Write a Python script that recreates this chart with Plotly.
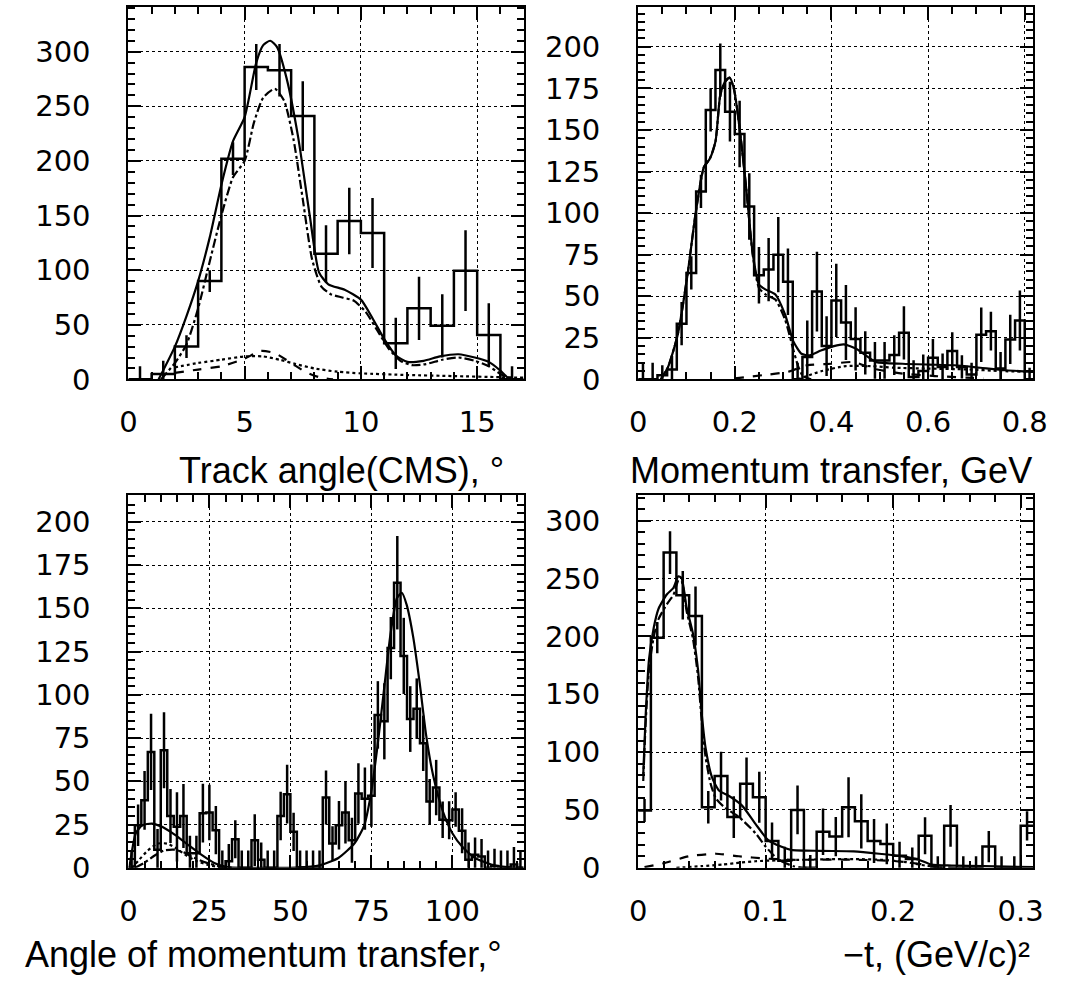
import plotly.graph_objects as go

W, H = 1067, 990

# ---------------- data: top-left (track angle) ----------------
TL_BIN_START, TL_BIN_WIDTH = 0.0, 1.0
TL_COUNTS = [0, 5, 30, 90, 202, 286, 283, 241, 115, 145, 134, 33, 65, 49, 99.5, 40.6, 0]
TL_ERRORS = [12, 12, 10.5, 10, 15, 21, 24, 32, 26, 30.5, 32, 23.5, 29, 29, 37, 29, 12]
TL_TOTAL_X = [1.3, 2.0, 2.5, 3.0, 3.5, 4.0, 4.5, 5.0, 5.5, 5.8, 6.1, 6.4, 6.8, 7.3, 7.8, 8.2, 8.6,
              9.3, 10.0, 10.5, 11.0, 11.5, 12.0, 12.7, 13.4, 14.2, 14.9, 15.5, 16.0, 16.3, 16.6]
TL_TOTAL_Y = [0, 30, 58, 90, 130, 178, 218, 240, 290, 306, 310, 304, 276, 222, 150, 98, 87,
              82, 73, 56, 37, 22, 16, 17, 21, 23, 20, 16, 8, 2, 0]
TL_MAIN_X = [1.4, 2.0, 2.5, 3.0, 3.5, 4.0, 4.5, 5.0, 5.4, 5.8, 6.3, 6.7, 7.1, 7.5, 7.9, 8.3, 8.7,
             9.2, 9.7, 10.2, 10.7, 11.2, 11.7, 12.2, 12.8, 13.5, 14.2, 14.9, 15.5, 16.0, 16.4]
TL_MAIN_Y = [0, 15, 32, 65, 108, 150, 185, 200, 235, 258, 266, 255, 220, 165, 110, 85, 78,
             75, 72, 62, 45, 28, 17, 13, 14, 18, 20, 17, 12, 5, 0]
TL_DASH_X = [2.0, 3.0, 4.0, 5.0, 5.7, 6.3, 7.0, 7.6, 8.2, 8.8]
TL_DASH_Y = [6, 9, 12, 19, 26, 24, 15, 7, 2, 0]
TL_DOT_X = [2.0, 3.0, 4.0, 5.0, 5.8, 6.5, 7.2, 8.0, 9.0, 10.0, 12.0, 14.0, 16.0, 17.0]
TL_DOT_Y = [11, 15, 18, 21, 21, 18, 14, 10, 7, 5.5, 4, 3, 2, 1.5]

# ---------------- data: top-right (momentum transfer) ----------------
TR_BIN_START, TR_BIN_WIDTH = 0.0, 0.02
TR_COUNTS = [0, 0, 2.5, 6, 33.5, 64, 113, 162, 186, 161, 147.6, 104, 62.6, 66, 75, 58.7, 0,
             13.4, 52.8, 20, 47.5, 34.2, 24.3, 16, 11.4, 11.4, 14.6, 28, 1.5, 5, 13, 7.5, 17,
             7.5, 3, 26.8, 29, 6.5, 24, 35.4, 0]
TR_ERRORS = [10, 10, 6, 8, 13, 10, 10, 13, 16, 18, 20, 20, 17, 19, 22.6, 20, 10,
             22, 24, 18, 22, 22.6, 19, 13, 11, 11, 12, 16, 10, 10, 11.3, 8, 11.3,
             7, 7, 16.4, 11.7, 10, 14.8, 18, 7]
TR_TOTAL_X = [0.047, 0.062, 0.082, 0.102, 0.119, 0.136, 0.148, 0.16, 0.17, 0.18, 0.189, 0.198,
              0.21, 0.224, 0.237, 0.25, 0.264, 0.284, 0.304, 0.321, 0.338, 0.355, 0.378, 0.405,
              0.426, 0.452, 0.476, 0.493, 0.547, 0.6, 0.655, 0.708, 0.762, 0.818]
TR_TOTAL_Y = [0, 7.5, 27, 62.6, 100, 127.6, 132.5, 143, 171, 179, 181.5, 175,
              151, 114, 76, 57, 54, 51, 39, 23, 15.4, 14.4, 17.3, 20,
              21, 18.3, 13.4, 10.4, 9.4, 8.9, 8.5, 7, 5.5, 4.5]
TR_MAIN_X = [0.047, 0.062, 0.082, 0.102, 0.119, 0.136, 0.148, 0.16, 0.17, 0.18, 0.189, 0.198,
             0.21, 0.224, 0.237, 0.25, 0.264, 0.284, 0.304, 0.321, 0.331, 0.341, 0.358]
TR_MAIN_Y = [0, 7.5, 27, 62.6, 100, 127.6, 132.5, 143, 171, 179, 181.5, 175,
             151, 114, 75, 55, 51, 48, 36, 18, 8, 2, 0]
TR_DASH_X = [0.2, 0.26, 0.31, 0.35, 0.4, 0.446, 0.486, 0.547, 0.614, 0.715]
TR_DASH_Y = [0.6, 2.6, 4.5, 8.5, 9.4, 10.4, 6.5, 3.5, 2, 0.6]
TR_DOT_X = [0.33, 0.38, 0.43, 0.48, 0.53, 0.6, 0.68, 0.75, 0.818]
TR_DOT_Y = [0, 5, 8, 8, 7, 6.5, 6, 5, 4.5]

# ---------------- data: bottom-left (angle of momentum transfer) ----------------
BL_BIN_START, BL_BIN_WIDTH = 0.0, 2.0
BL_COUNTS = [0, 24.6, 39, 67, 10.4, 68, 30, 23.7, 30, 8.5, 8.5, 31.6, 32, 21.8, 0, 3.8,
             16.5, 0, 0, 16, 4.7, 0, 0, 30, 42.6, 20.8, 0, 0, 0, 0, 40.7, 14, 24.6, 32,
             16, 43, 40, 41.7, 88.4, 84.7, 127, 164.8, 122.5, 86, 92, 72, 38.4, 46.4,
             27.8, 27.5, 33.7, 21.4, 4.7, 7.6, 6.6, 0, 1, 0, 0, 2, 0]
BL_ERRORS = [9.5, 12, 17, 22, 12, 22, 15.6, 20, 18.5, 10, 10, 17, 16, 14, 10, 10,
             11, 10, 10, 15, 10, 10, 10, 14, 17, 11, 10, 10, 10, 10, 15.6, 10, 14, 18,
             13, 17.5, 18, 18, 19.5, 22, 18, 27, 22, 19, 17.5, 16, 13, 16,
             10.5, 11, 10, 13, 10, 10, 10, 10, 10, 10, 10, 10, 10]
BL_TOTAL_X = [0.3, 2.3, 4.3, 7.3, 10.4, 14.4, 18.4, 22.5, 26.5, 30.5, 36.5, 46.6, 51.7, 58.7,
              64.8, 69.8, 72.8, 74.8, 76.8, 78.9, 80.9, 82.9, 84.4, 85.9, 87.9, 89.9, 91.9,
              94, 97, 100, 103, 107, 112, 117, 122]
BL_TOTAL_Y = [0, 20, 24.6, 25.6, 23.7, 19, 13.3, 7.6, 2.8, 0.4, 0, 0, 0.2, 1.3,
              5.7, 14.2, 24.6, 42, 69, 103, 135, 156, 159, 152, 133.5, 107, 76.7,
              54, 33, 20, 12.3, 5.7, 1.9, 0.4, 0]
BL_DASHDOT_X = [2, 5, 8, 11, 14, 17, 20, 24, 28, 32]
BL_DASHDOT_Y = [0, 3, 7, 10, 10.5, 9, 6, 3, 1, 0]
BL_DOT_X = [1, 3, 6, 9, 12, 15, 18, 21, 25, 30]
BL_DOT_Y = [0, 4, 10, 14, 14, 11, 7, 4, 1.5, 0]

# ---------------- data: bottom-right (-t) ----------------
BR_BIN_START, BR_BIN_WIDTH = 0.0, 0.01
BR_COUNTS = [49.6, 199, 272.5, 235.7, 217.6, 52.4, 79.3, 43.9, 72.8, 61, 23.2, 6.2, 50.1, 0,
             31.2, 27, 52.4, 40.2, 23.2, 20.7, 10.5, 7.6, 27.8, 0, 36.3, 0, 0, 18.4, 0, 0, 36.3]
BR_ERRORS = [10, 13.5, 18.4, 21, 25.5, 14, 21, 18, 22.6, 22, 16, 12, 21, 11,
             20, 17, 26, 23.4, 19, 17.7, 12, 10, 16, 10, 18, 10, 10, 13.5, 10, 10, 12.7]
BR_TOTAL_X = [0.004, 0.0059, 0.0085, 0.0123, 0.016, 0.0226, 0.0277, 0.0315, 0.034, 0.038,
              0.043, 0.047, 0.05, 0.053, 0.058, 0.0636, 0.071, 0.0815, 0.092, 0.102, 0.112,
              0.12, 0.143, 0.169, 0.189, 0.207, 0.22, 0.23, 0.246, 0.271, 0.31]
BR_TOTAL_Y = [80.7, 131.7, 180, 208, 224, 236.5, 242, 252, 250.7, 225,
              202.5, 171, 131.7, 103, 78, 66.6, 62.3, 53.8, 38, 24, 18.4,
              15.6, 14.7, 14.2, 12.2, 9.9, 7, 2.8, 2, 1.4, 0.6]
BR_MAIN_X = [0.004, 0.0059, 0.0085, 0.0123, 0.016, 0.0226, 0.0277, 0.0315, 0.034, 0.038,
             0.043, 0.047, 0.05, 0.053, 0.057, 0.061, 0.068, 0.079, 0.092, 0.1, 0.11, 0.122, 0.132]
BR_MAIN_Y = [75, 125, 172, 200, 215, 228, 236, 248, 248, 222,
             198, 165, 125, 95, 72, 60, 52, 44, 30, 18.4, 7, 1.4, 0]
BR_DASH_X = [0.005, 0.02, 0.04, 0.061, 0.079, 0.1, 0.12, 0.14, 0.17, 0.2, 0.22, 0.235, 0.25]
BR_DASH_Y = [0.6, 4, 10, 12.2, 10, 8, 7, 7, 7, 6, 3.5, 1, 0]
BR_DOT_X = [0.03, 0.05, 0.066, 0.08, 0.092, 0.11, 0.13, 0.15, 0.17, 0.19, 0.21, 0.225, 0.24]
BR_DOT_Y = [0, 1.5, 2.8, 4.5, 5.7, 6.5, 7, 7.5, 7.6, 7, 5, 2, 0]

X_TITLES = ["Track angle(CMS), °", "Momentum transfer, GeV",
            "Angle of momentum transfer,°", "\u2212t, (GeV/c)\u00b2"]

# ---------------- figure ----------------
TITLE_FONT = "Liberation Sans"
TICK_FONT = "DejaVu Sans"
fig = go.Figure()


def px_x(p):
    return p / W


def px_y(p):
    return 1 - p / H


panels = [
    dict(start=TL_BIN_START, width=TL_BIN_WIDTH, counts=TL_COUNTS, errors=TL_ERRORS,
         curves=[(TL_DOT_X, TL_DOT_Y, "dot"), (TL_DASH_X, TL_DASH_Y, "dash"),
                 (TL_MAIN_X, TL_MAIN_Y, "dashdot"), (TL_TOTAL_X, TL_TOTAL_Y, "solid")],
         xdom=(122, 526), ydom=(7, 386), xr=[0, 17], yr=[0, 341],
         xd=5, xm=1, yd=50, ym=10, title=X_TITLES[0], tx=508, ty=479),
    dict(start=TR_BIN_START, width=TR_BIN_WIDTH, counts=TR_COUNTS, errors=TR_ERRORS,
         curves=[(TR_DOT_X, TR_DOT_Y, "dot"), (TR_DASH_X, TR_DASH_Y, "dash"),
                 (TR_MAIN_X, TR_MAIN_Y, "dashdot"), (TR_TOTAL_X, TR_TOTAL_Y, "solid")],
         xdom=(643, 1047), ydom=(7, 386), xr=[0, 0.818], yr=[0, 224],
         xd=0.2, xm=0.05, yd=25, ym=5, title=X_TITLES[1], tx=1048, ty=479),
    dict(start=BL_BIN_START, width=BL_BIN_WIDTH, counts=BL_COUNTS, errors=BL_ERRORS,
         curves=[(BL_DOT_X, BL_DOT_Y, "dot"), (BL_DASHDOT_X, BL_DASHDOT_Y, "dashdot"),
                 (BL_TOTAL_X, BL_TOTAL_Y, "solid")],
         xdom=(122, 526), ydom=(504, 883), xr=[0, 122], yr=[0, 215.3],
         xd=25, xm=5, yd=25, ym=5, title=X_TITLES[2], tx=506, ty=971),
    dict(start=BR_BIN_START, width=BR_BIN_WIDTH, counts=BR_COUNTS, errors=BR_ERRORS,
         curves=[(BR_DOT_X, BR_DOT_Y, "dot"), (BR_DASH_X, BR_DASH_Y, "dash"),
                 (BR_MAIN_X, BR_MAIN_Y, "dashdot"), (BR_TOTAL_X, BR_TOTAL_Y, "solid")],
         xdom=(643, 1047), ydom=(504, 883), xr=[0, 0.31], yr=[0, 322],
         xd=0.1, xm=0.02, yd=50, ym=10, title=X_TITLES[3], tx=1046, ty=971),
]

annotations = []
for i, p in enumerate(panels, start=1):
    xa = "x" if i == 1 else f"x{i}"
    ya = "y" if i == 1 else f"y{i}"
    n = len(p["counts"])
    edges = [p["start"] + p["width"] * k for k in range(n + 1)]
    centers = [p["start"] + p["width"] * (k + 0.5) for k in range(n)]

    # fit curves
    for cx, cy, dash in p["curves"]:
        fig.add_trace(go.Scatter(
            x=cx, y=cy, mode="lines", xaxis=xa, yaxis=ya, showlegend=False,
            line=dict(color="black", width=2.2, dash=dash, shape="spline", smoothing=0.6),
            hoverinfo="skip"))
    # histogram outline
    fig.add_trace(go.Scatter(
        x=edges, y=list(p["counts"]) + [p["counts"][-1]], mode="lines",
        xaxis=xa, yaxis=ya, showlegend=False,
        line=dict(color="black", width=2.5, shape="hv")))
    # error bars
    fig.add_trace(go.Scatter(
        x=centers, y=p["counts"], mode="markers", xaxis=xa, yaxis=ya, showlegend=False,
        marker=dict(size=1, color="black"),
        error_y=dict(type="data", array=p["errors"], visible=True, width=0,
                     thickness=2.5, color="black")))

    axis_common = dict(showline=True, linecolor="black", linewidth=2, mirror="ticks",
                       ticks="inside", ticklen=13, tickwidth=1.5, tickcolor="black",
                       showgrid=True, gridcolor="black", gridwidth=1, griddash="dot",
                       zeroline=False, tickfont=dict(family=TICK_FONT, size=29, color="black"))
    fig.layout[("xaxis" if i == 1 else f"xaxis{i}")] = dict(
        axis_common, domain=[px_x(p["xdom"][0]), px_x(p["xdom"][1])], range=p["xr"],
        anchor=ya, tick0=0, dtick=p["xd"], ticklabelstandoff=16,
        minor=dict(ticks="inside", ticklen=7, tickwidth=1.5, tickcolor="black",
                   dtick=p["xm"], tick0=0, showgrid=False))
    fig.layout[("yaxis" if i == 1 else f"yaxis{i}")] = dict(
        axis_common, domain=[px_y(p["ydom"][1]), px_y(p["ydom"][0])], range=p["yr"],
        anchor=xa, tick0=0, dtick=p["yd"], ticklabelstandoff=30,
        minor=dict(ticks="inside", ticklen=7, tickwidth=1.5, tickcolor="black",
                   dtick=p["ym"], tick0=0, showgrid=False))

    annotations.append(dict(
        text=p["title"], xref="paper", yref="paper", x=px_x(p["tx"]), y=px_y(p["ty"]),
        xanchor="right", yanchor="middle", showarrow=False,
        font=dict(family=TITLE_FONT, size=36, color="black")))

fig.update_layout(
    width=W, height=H, margin=dict(l=0, r=0, t=0, b=0),
    paper_bgcolor="white", plot_bgcolor="white",
    annotations=annotations, showlegend=False,
)

fig.write_html("out.html")
